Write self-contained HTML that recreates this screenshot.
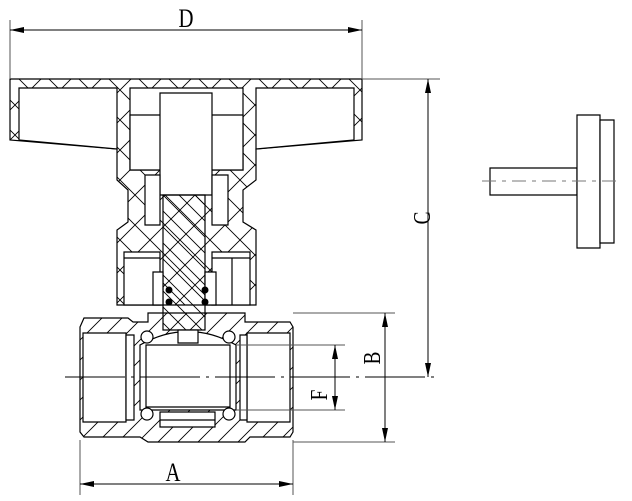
<!DOCTYPE html>
<html><head><style>
html,body{margin:0;padding:0;background:#fff;}
svg{display:block}
text{font-family:"Liberation Serif",serif;fill:#000}
</style></head><body>
<svg width="632" height="501" viewBox="0 0 632 501" xmlns="http://www.w3.org/2000/svg">
<defs>
<pattern id="h" width="30" height="30" patternUnits="userSpaceOnUse">
<path d="M0 0L30 30M30 0L0 30" stroke="#000" stroke-width="0.9"/>
</pattern>
<pattern id="d" width="20" height="20" patternUnits="userSpaceOnUse">
<path d="M-2 22L22 -2M-2 2L2 -2M18 22L22 18" stroke="#000" stroke-width="0.9"/>
</pattern>
<pattern id="s" width="16" height="16" patternUnits="userSpaceOnUse">
<path d="M-2 -2L18 18M-2 14L2 18M14 -2L18 2" stroke="#000" stroke-width="0.9"/>
</pattern>
<marker id="ar" viewBox="0 0 14 6" refX="14" refY="3" markerWidth="14" markerHeight="6" markerUnits="userSpaceOnUse" orient="auto"><path d="M0 0L14 3L0 6z" fill="#000"/></marker>
<marker id="al" viewBox="0 0 14 6" refX="0" refY="3" markerWidth="14" markerHeight="6" markerUnits="userSpaceOnUse" orient="auto"><path d="M14 0L0 3L14 6z" fill="#000"/></marker>
</defs>
<g fill="none" stroke="#000" stroke-width="1.2">
<!-- handle -->
<path d="M10 79H362V140L256 149V180L243 190V222L256 230V305H117V230L128 222V190L117 180V149L10 140Z" fill="url(#h)"/>
<path d="M19 88H117V149L19 140Z" fill="#fff"/>
<path d="M256 88H354V140L256 149Z" fill="#fff"/>
<path d="M130 88H243V170H130Z" fill="#fff"/>
<path d="M130 115H243V170H130Z" fill="#fff"/>
<path d="M160 93H212V195H160Z" fill="#fff"/>
<path d="M163 195H205V330H163Z" fill="url(#s)"/>
<path d="M145 175H160V225H145Z M212 175H228V225H212Z" fill="#fff"/>
<path d="M124 252H160V305H124Z M212 252H250V305H212Z" fill="#fff"/>
<path d="M124 258H160 M212 258H250 M232 258V305"/>
<path d="M153 272H163V305H153Z M205 272H216V305H205Z" fill="#fff"/>
<g fill="#000" stroke="none">
<circle cx="169" cy="290" r="3.5"/><circle cx="169" cy="302" r="3.5"/>
<circle cx="205" cy="290" r="3.5"/><circle cx="205" cy="302" r="3.5"/>
</g>
<!-- body -->
<path d="M84 318H128L133 322H148V313H245V322H290L293 327V432L290 437H250L245 442H148L140 437H84L80 432V327Z" fill="url(#d)"/>
<path d="M83 333H126V422H83Z" fill="#fff"/>
<path d="M126 335H134V420H126Z" fill="#fff"/>
<path d="M247 333H290V422H247Z" fill="#fff"/>
<path d="M240 335H247V420H240Z" fill="#fff"/>
<path d="M140 345Q188 318 236 345V410H140Z" fill="#fff"/>
<path d="M146 345H230V407H146Z" fill="#fff"/>
<path d="M160 412H215V427H160Z M160 420H215" fill="#fff"/>
<path d="M178 330H198V343H178Z" fill="#fff"/>
<circle cx="147" cy="337" r="6" fill="#fff"/><circle cx="229" cy="337" r="6" fill="#fff"/>
<circle cx="147" cy="414" r="6" fill="#fff"/><circle cx="229" cy="414" r="6" fill="#fff"/>
</g>
<g stroke="#000" stroke-width="1">
<path d="M65 377H440" stroke-dasharray="60 6 3 6"/>
</g>
<!-- right view -->
<g fill="#fff" stroke="#000" stroke-width="1.2">
<path d="M490 168H577V195H490Z"/>
<path d="M577 115H600V248H577Z"/>
<path d="M600 120H614V243H600Z"/>
</g>
<path d="M482 181H620" stroke="#777" stroke-width="1" stroke-dasharray="14 6 4 6"/>
<!-- dimensions -->
<g stroke="#555" stroke-width="1" fill="none">
<path d="M10 20V79 M362 20V79"/>
<path d="M362 79H440"/>
<path d="M293 313H395 M293 442H395"/>
<path d="M236 345H345 M236 410H345"/>
<path d="M80 440V495 M293 440V495"/>
</g>
<g stroke="#000" stroke-width="1" fill="none">
<path d="M10 30H362" marker-start="url(#al)" marker-end="url(#ar)"/>
<path d="M428 79V377" marker-start="url(#al)" marker-end="url(#ar)"/>
<path d="M385 313V442" marker-start="url(#al)" marker-end="url(#ar)"/>
<path d="M335 345V410" marker-start="url(#al)" marker-end="url(#ar)"/>
<path d="M80 484H293" marker-start="url(#al)" marker-end="url(#ar)"/>
</g>
<text font-size="26" text-anchor="middle" transform="translate(186,27) scale(0.8,1)">D</text>
<text font-size="26" text-anchor="middle" transform="translate(173,481) scale(0.8,1)">A</text>
<text font-size="24" text-anchor="middle" transform="translate(430,218) rotate(-90) scale(0.8,1)">C</text>
<text font-size="24" text-anchor="middle" transform="translate(380,358) rotate(-90) scale(0.8,1)">B</text>
<text font-size="24" text-anchor="middle" transform="translate(327,395) rotate(-90) scale(0.8,1)">F</text>
</svg>
</body></html>
